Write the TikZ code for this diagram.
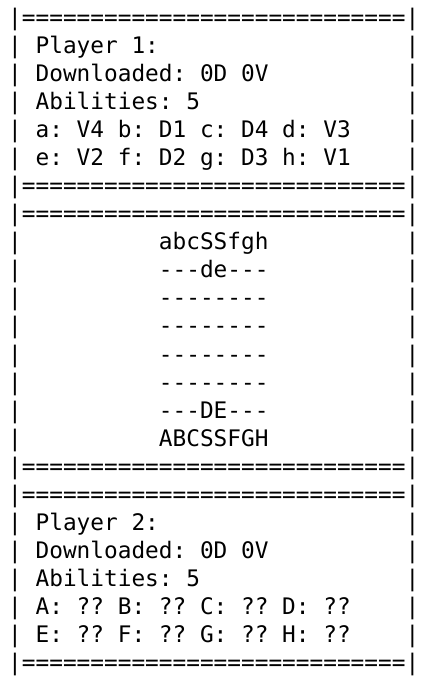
\documentclass[tikz,border=0pt]{standalone}
\usepackage{fontspec}
\setmonofont{DejaVu Sans Mono}
\frenchspacing

\begin{document}
\begin{tikzpicture}[
  x=13.7pt,y=-28.05pt,
  every node/.style={font=\ttfamily\fontsize{22.76}{27}\selectfont,
    inner sep=0pt,anchor=base west,text=black},
  border/.style={},
  bar/.style={},
  line/.style={}]

  \useasboundingbox[fill=white] (0pt,0pt) rectangle (431pt,-688pt);

  \begin{scope}[shift={(8pt,2.65pt)}]
  % Borders between the three panels
  \foreach \r in {1,7,8,17,18,24}
    \node[border] (border\r) at (0,\r) {|============================|};

  % Side bars of the panels
  \foreach \r in {2,...,6} {
    \node[bar] (lbar\r) at (0,\r) {|};
    \node[bar] (rbar\r) at (29,\r) {|};
  }
  \foreach \r in {9,...,16} {
    \node[bar] (lbar\r) at (0,\r) {|};
    \node[bar] (rbar\r) at (29,\r) {|};
  }
  \foreach \r in {19,...,23} {
    \node[bar] (lbar\r) at (0,\r) {|};
    \node[bar] (rbar\r) at (29,\r) {|};
  }

  % Player 1
  \node[line] (pone) at (2,2) {Player 1:};
  \node[line] (pone-dl) at (2,3) {Downloaded: 0D 0V};
  \node[line] (pone-ab) at (2,4) {Abilities: 5};
  \node[line] (pone-la) at (2,5) {a: V4 b: D1 c: D4 d: V3};
  \node[line] (pone-lb) at (2,6) {e: V2 f: D2 g: D3 h: V1};

  % Board
  \node[line] (rank1) at (11,9) {abcSSfgh};
  \node[line] (rank2) at (11,10) {---de---};
  \foreach \r in {11,...,14}
    \node[line] (rank\r) at (11,\r) {--------};
  \node[line] (rank7) at (11,15) {---DE---};
  \node[line] (rank8) at (11,16) {ABCSSFGH};

  % Player 2
  \node[line] (ptwo) at (2,19) {Player 2:};
  \node[line] (ptwo-dl) at (2,20) {Downloaded: 0D 0V};
  \node[line] (ptwo-ab) at (2,21) {Abilities: 5};
  \node[line] (ptwo-la) at (2,22) {A: ?? B: ?? C: ?? D: ??};
  \node[line] (ptwo-lb) at (2,23) {E: ?? F: ?? G: ?? H: ??};
  \end{scope}
\end{tikzpicture}
\end{document}
